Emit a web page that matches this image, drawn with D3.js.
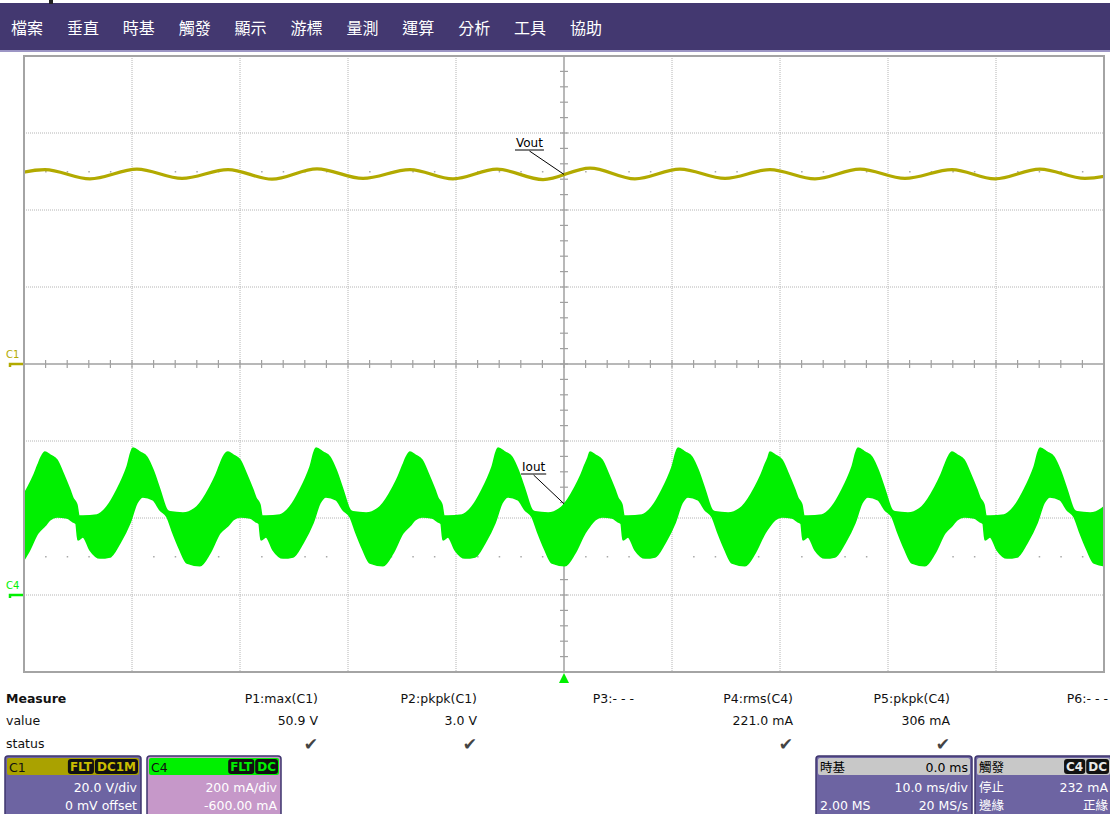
<!DOCTYPE html>
<html>
<head>
<meta charset="utf-8">
<script src="https://cdn.jsdelivr.net/npm/d3@7"></script>
<style>
  html, body { margin: 0; padding: 0; background: #fff; }
  svg { display: block; font-family: "DejaVu Sans", Verdana, sans-serif; }
</style>
</head>
<body>
<svg id="scope" width="1110" height="814"></svg>
<script>
// ---- menu ----
const menuItems = ["檔案", "垂直", "時基", "觸發", "顯示", "游標", "量測", "運算", "分析", "工具", "協助"];

// ---- acquisition settings ----
const timeRangeMs = [-50, 50];     // 10.0 ms/div, 0.0 ms delay
const c1VoltsPerDiv = 20;          // C1: 20.0 V/div, 0 mV offset
const c1OffsetV = 0;
const c4MaPerDiv = 200;            // C4: 200 mA/div, -600 mA offset
const c4OffsetMa = -600;

// ---- C1 (Vout) ripple: turning points of the trace ----
const voutTimesMs = [-52.2, -48.06, -43.89, -39.54, -35.37, -31.11, -27.04, -22.87, -18.61, -14.26, -10.28, -6.20,
                     -1.94, 2.41, 6.57, 10.74, 14.91, 19.07, 23.24, 27.41, 31.57, 35.93, 39.91, 44.07, 48.24, 52.4];
const voutVolts   = [48.2, 50.5, 48.1, 50.6, 48.2, 50.5, 48.0, 50.7, 48.2, 50.5, 48.1, 50.6,
                     47.9, 50.9, 48.1, 50.6, 48.2, 50.5, 48.1, 50.6, 48.2, 50.5, 48.1, 50.6, 48.2, 50.5];

// ---- C4 (Iout): one line cycle pair (notched half + smooth half) ----
// start of each pair (first current peak), ms
const ioutPairStartsMs = [-64.91, -48.06, -31.11, -14.26, 2.41, 19.07, 35.93];
// upper envelope of the switching band within a pair
const ioutUpperOffsetsMs = [0, 0.46, 1.11, 1.67, 2.31, 2.59, 2.87, 2.96, 3.15, 3.52, 4.81, 5.74, 6.67, 7.59,
                            8.15, 8.80, 9.44, 10.0, 10.65, 11.30, 11.57, 12.78, 14.07, 15.28, 15.74, 16.20, 16.50];
const ioutUpperMa        = [371, 364, 351, 317, 273, 252, 240, 234, 205, 205, 208, 229, 273, 332,
                            382, 371, 358, 325, 273, 221, 216, 213, 229, 280, 306, 338, 358];
// lower envelope of the switching band within a pair
const ioutLowerOffsetsMs = [0, 0.46, 1.11, 2.04, 2.59, 2.87, 3.06, 3.52, 4.17, 5.09, 6.02, 6.94, 7.87,
                            8.52, 9.07, 10.0, 10.65, 11.30, 11.85, 12.50, 13.15, 14.35, 15.28, 16.20];
const ioutLowerMa        = [180, 195, 203, 200, 190, 186, 143, 151, 117, 96, 99, 135, 187,
                            239, 255, 247, 221, 203, 161, 117, 83, 76, 109, 161];

// ---- measurements ----
const measureNames  = ["P1:max(C1)", "P2:pkpk(C1)", "P3:- - -", "P4:rms(C4)", "P5:pkpk(C4)", "P6:- - -"];
const measureValues = ["50.9 V", "3.0 V", "", "221.0 mA", "306 mA", ""];
const measureStatus = [true, true, false, true, true, false];

// ---------------------------------------------------------------
const svg = d3.select("#scope");
const W = 1110, H = 814;
const plot = { left: 24, right: 1104, top: 56, bottom: 672 };
const menuColor = "#433870";
const panelPurple = "#6d64a2";
const c1Color = "#b2aa00";
const c4Color = "#00f000";
const gridColor = "#b4b4b4";
const axisColor = "#a0a0a0";
const uiFont = "'DejaVu Sans', Verdana, sans-serif";
const cjkFont = "'Noto Sans CJK TC', sans-serif";

const x = d3.scaleLinear().domain(timeRangeMs).range([plot.left, plot.right]);
const yV = d3.scaleLinear()
  .domain([-c1OffsetV - 4 * c1VoltsPerDiv, -c1OffsetV + 4 * c1VoltsPerDiv])
  .range([plot.bottom, plot.top]);
const yI = d3.scaleLinear()
  .domain([-c4OffsetMa - 4 * c4MaPerDiv, -c4OffsetMa + 4 * c4MaPerDiv])
  .range([plot.bottom, plot.top]);

// ---- menu bar ----
svg.append("rect").attr("x", 0).attr("y", 3).attr("width", W).attr("height", 47).attr("fill", menuColor);
svg.append("rect").attr("x", 0).attr("y", 50).attr("width", W).attr("height", 2).attr("fill", "#9c95c4");
svg.append("rect").attr("x", 49).attr("y", 0).attr("width", 4).attr("height", 4).attr("fill", "#222");
svg.append("g").selectAll("text").data(menuItems).join("text")
  .attr("x", (d, i) => 11 + i * 55.9)
  .attr("y", 34)
  .attr("fill", "#fff")
  .attr("font-family", cjkFont)
  .attr("font-size", 16)
  .text(d => d);

// ---- graticule ----
const grid = svg.append("g");
const xDivs = d3.range(timeRangeMs[0], timeRangeMs[1] + 0.001, 10);
const yDivs = d3.range(-4, 5);
grid.selectAll("line.vg").data(xDivs.slice(1, -1).filter(t => t !== 0)).join("line")
  .attr("x1", d => x(d)).attr("x2", d => x(d))
  .attr("y1", plot.top).attr("y2", plot.bottom)
  .attr("stroke", gridColor).attr("stroke-dasharray", "1,1");
grid.selectAll("line.hg").data(yDivs.slice(1, -1).filter(d => d !== 0)).join("line")
  .attr("x1", plot.left).attr("x2", plot.right)
  .attr("y1", d => yV(d * c1VoltsPerDiv)).attr("y2", d => yV(d * c1VoltsPerDiv))
  .attr("stroke", gridColor).attr("stroke-dasharray", "1,1");

// minor dot rows at +/- 2.5 div
const minorT = d3.range(timeRangeMs[0], timeRangeMs[1] + 0.001, 2).filter(t => t % 10 !== 0);
[2.5, -2.5].forEach(dv => {
  grid.append("g").selectAll("rect").data(minorT).join("rect")
    .attr("x", d => x(d) - 0.5).attr("y", yV(dv * c1VoltsPerDiv) - 0.5)
    .attr("width", 1.5).attr("height", 1.5).attr("fill", "#a8a8a8");
});

// center axes with ticks
const cx = x(0), cy = yV(0);
grid.append("line").attr("x1", plot.left).attr("x2", plot.right).attr("y1", cy).attr("y2", cy)
  .attr("stroke", axisColor).attr("stroke-width", 1.5);
grid.append("line").attr("x1", cx).attr("x2", cx).attr("y1", plot.top).attr("y2", plot.bottom)
  .attr("stroke", axisColor).attr("stroke-width", 1.5);
grid.append("g").selectAll("line").data(d3.range(timeRangeMs[0], timeRangeMs[1] + 0.001, 2)).join("line")
  .attr("x1", d => x(d)).attr("x2", d => x(d)).attr("y1", cy - 4).attr("y2", cy + 4)
  .attr("stroke", axisColor).attr("stroke-width", 1.2);
grid.append("g").selectAll("line").data(d3.range(-4, 4.001, 0.2)).join("line")
  .attr("x1", cx - 4).attr("x2", cx + 4)
  .attr("y1", d => yV(d * c1VoltsPerDiv)).attr("y2", d => yV(d * c1VoltsPerDiv))
  .attr("stroke", axisColor).attr("stroke-width", 1.2);

svg.append("defs").append("clipPath").attr("id", "plotClip")
  .append("rect").attr("x", plot.left).attr("y", plot.top)
  .attr("width", plot.right - plot.left).attr("height", plot.bottom - plot.top);

// ---- C4 current band ----
function buildEnvelope(offsets, values) {
  const pts = [];
  ioutPairStartsMs.forEach(s => offsets.forEach((o, i) => pts.push([s + o, values[i]])));
  return pts;
}
function interpolator(pts) {
  const bis = d3.bisector(d => d[0]).left;
  return t => {
    const i = bis(pts, t);
    const a = pts[Math.max(0, i - 1)], b = pts[Math.min(pts.length - 1, i)];
    if (a === b) return a[1];
    return a[1] + (b[1] - a[1]) * (t - a[0]) / (b[0] - a[0]);
  };
}
const upperPts = buildEnvelope(ioutUpperOffsetsMs, ioutUpperMa);
const lowerPts = buildEnvelope(ioutLowerOffsetsMs, ioutLowerMa);
const upperAt = interpolator(upperPts);
const lowerAt = interpolator(lowerPts);

const traces = svg.append("g").attr("clip-path", "url(#plotClip)");
// fill the band as the region under the upper envelope, then cut the lower side away
const yTopEnv = d3.line().x(d => x(d[0])).y(d => yI(d[1])).curve(d3.curveMonotoneX);
const bandPath = (() => {
  const up = yTopEnv(upperPts);
  const lowRev = yTopEnv(lowerPts.slice().reverse().map(p => [p[0], p[1]]));
  return up + "L" + lowRev.slice(1) + "Z";
})();
traces.append("path").attr("d", bandPath)
  .attr("fill", c4Color).attr("stroke", c4Color).attr("stroke-width", 1.6).attr("stroke-linejoin", "round");

// ---- C1 voltage trace ----
const vout = voutTimesMs.map((t, i) => [t, voutVolts[i]]);
traces.append("path").datum(vout)
  .attr("d", d3.line().x(d => x(d[0])).y(d => yV(d[1])).curve(d3.curveMonotoneX))
  .attr("fill", "none").attr("stroke", c1Color).attr("stroke-width", 3.2);

// ---- frame ----
svg.append("rect").attr("x", plot.left).attr("y", plot.top)
  .attr("width", plot.right - plot.left).attr("height", plot.bottom - plot.top)
  .attr("fill", "none").attr("stroke", "#a4a4a4").attr("stroke-width", 2);

// ---- channel markers ----
function channelMarker(label, color, yPos) {
  const g = svg.append("g");
  g.append("text").attr("x", 6).attr("y", yPos - 6).attr("font-size", 10)
    .attr("font-family", uiFont).attr("fill", color).text(label);
  g.append("path").attr("d", `M10,${yPos + 3} L10,${yPos} L23,${yPos}`)
    .attr("fill", "none").attr("stroke", color).attr("stroke-width", 2.5);
}
channelMarker("C1", c1Color, yV(0));
channelMarker("C4", c4Color, yI(0));

// trigger position marker
svg.append("path")
  .attr("d", `M${cx},${plot.bottom + 1} L${cx + 5},${plot.bottom + 11} L${cx - 5},${plot.bottom + 11} Z`)
  .attr("fill", c4Color);

// ---- trace labels ----
function traceLabel(txt, lx, ly, tipX, tipY) {
  const g = svg.append("g");
  const t = g.append("text").attr("x", lx).attr("y", ly).attr("font-size", 12)
    .attr("font-family", uiFont).attr("fill", "#000").text(txt);
  const w = t.node().getComputedTextLength();
  g.append("line").attr("x1", lx - 1).attr("x2", lx + w + 1).attr("y1", ly + 3).attr("y2", ly + 3)
    .attr("stroke", "#000").attr("stroke-width", 1);
  g.append("line").attr("x1", lx + w / 2).attr("y1", ly + 4).attr("x2", tipX).attr("y2", tipY)
    .attr("stroke", "#000").attr("stroke-width", 1);
}
const voutAt = interpolator(vout);
traceLabel("Vout", 516, 147, cx, yV(voutAt(0)));
traceLabel("Iout", 522, 471, cx, yI(upperAt(0)));

// ---- measurement table ----
const mt = svg.append("g").attr("font-size", 12.5).attr("font-family", uiFont).attr("fill", "#111");
mt.append("text").attr("x", 6).attr("y", 703).attr("font-weight", "bold").text("Measure");
mt.append("text").attr("x", 6).attr("y", 725).text("value");
mt.append("text").attr("x", 6).attr("y", 748).text("status");
const colRight = [318, 477, 634, 793, 950, 1108];
measureNames.forEach((n, i) => {
  mt.append("text").attr("x", colRight[i]).attr("y", 703).attr("text-anchor", "end").text(n);
  mt.append("text").attr("x", colRight[i]).attr("y", 725).attr("text-anchor", "end").text(measureValues[i]);
  if (measureStatus[i]) {
    mt.append("text").attr("x", colRight[i]).attr("y", 750).attr("text-anchor", "end")
      .attr("font-size", 17).attr("fill", "#444").text("✔");
  }
});

// ---- status panels ----
function badge(g, txt, rx, y, fg) {
  const t = g.append("text").attr("x", rx - 2).attr("y", y + 12).attr("text-anchor", "end")
    .attr("font-size", 12).attr("font-weight", "bold").attr("fill", fg).text(txt);
  const w = t.node().getComputedTextLength();
  g.insert("rect", "text:last-child").attr("x", rx - w - 4).attr("y", y).attr("width", w + 4).attr("height", 15)
    .attr("rx", 3).attr("fill", "#111");
  return rx - w - 5;
}
function panel(px, pw, headFill, headText, headColor, body, badges, badgeColor, headRight) {
  const g = svg.append("g").attr("font-size", 12.5).attr("font-family", uiFont);
  g.append("rect").attr("x", px).attr("y", 756).attr("width", pw).attr("height", 64).attr("rx", 3)
    .attr("fill", body.fill).attr("stroke", "#3e356e").attr("stroke-width", 1.5);
  g.append("rect").attr("x", px + 2).attr("y", 758).attr("width", pw - 4).attr("height", 17).attr("rx", 2)
    .attr("fill", headFill);
  g.append("text").attr("x", px + 4).attr("y", 772).attr("fill", headColor)
    .attr("font-family", `'DejaVu Sans', ${cjkFont}`).text(headText);
  let rx = px + pw - 3;
  badges.slice().reverse().forEach(b => { rx = badge(g, b, rx, 759, badgeColor); });
  if (headRight) g.append("text").attr("x", px + pw - 4).attr("y", 772).attr("text-anchor", "end")
    .attr("fill", "#000").text(headRight);
  body.rows.forEach(r => {
    if (r.left) g.append("text").attr("x", px + 4).attr("y", r.y).attr("fill", "#fff")
      .attr("font-family", `'DejaVu Sans', ${cjkFont}`).text(r.left);
    if (r.right) g.append("text").attr("x", px + pw - 4).attr("y", r.y).attr("text-anchor", "end")
      .attr("fill", "#fff").attr("font-family", `'DejaVu Sans', ${cjkFont}`).text(r.right);
  });
}
panel(5, 136, "#aaa200", "C1", "#111", { fill: panelPurple, rows: [
  { y: 792, right: "20.0 V/div" }, { y: 810, right: "0 mV offset" }] }, ["FLT", "DC1M"], "#c9bd00");
panel(147, 134, "#00f000", "C4", "#111", { fill: "#c698c9", rows: [
  { y: 792, right: "200 mA/div" }, { y: 810, right: "-600.00 mA" }] }, ["FLT", "DC"], "#00f000");
panel(816, 156, "#c8c8c8", "時基", "#000", { fill: panelPurple, rows: [
  { y: 792, right: "10.0 ms/div" }, { y: 810, left: "2.00 MS", right: "20 MS/s" }] }, [], "#fff", "0.0 ms");
panel(975, 137, "#c8c8c8", "觸發", "#000", { fill: panelPurple, rows: [
  { y: 792, left: "停止", right: "232 mA" }, { y: 810, left: "邊緣", right: "正緣" }] }, ["C4", "DC"], "#e8e8e8");
</script>
</body>
</html>
